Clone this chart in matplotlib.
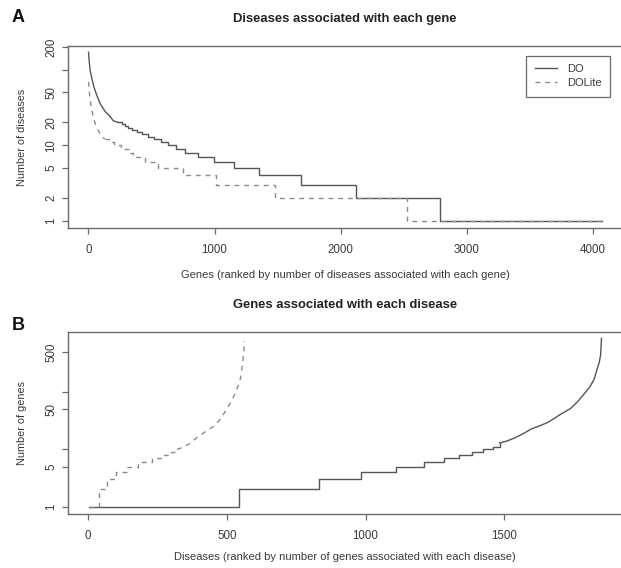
import matplotlib
matplotlib.use('Agg')
import matplotlib.pyplot as plt
from matplotlib.ticker import FixedLocator, FixedFormatter, NullLocator

# Panel A: diseases per gene (genes ranked, descending)
# steep head of each curve, then integer plateaus (rank where each starts)
A_DO_HEAD_RANK = [1, 3, 8, 15, 27, 45, 66, 95, 132, 172, 198, 236]
A_DO_HEAD_VAL = [170, 150, 120, 95, 77, 58, 46, 35, 28, 24, 21, 20]
A_DO_STEP_RANK = [236, 265, 290, 315, 345, 385, 425, 470, 520, 575, 630,
                  693, 767, 872, 999, 1158, 1356, 1687, 2120, 2792, 4076]
A_DO_STEP_VAL = [20, 19, 18, 17, 16, 15, 14, 13, 12, 11, 10,
                 9, 8, 7, 6, 5, 4, 3, 2, 1, 1]
A_LITE_HEAD_RANK = [1, 5, 12, 25, 40, 60, 93, 130]
A_LITE_HEAD_VAL = [69, 55, 42, 30, 23, 18, 14, 12]
A_LITE_STEP_RANK = [130, 165, 200, 255, 320, 350, 450, 555, 753, 1010,
                    1481, 2525, 4076]
A_LITE_STEP_VAL = [12, 11, 10, 9, 8, 7, 6, 5, 4, 3, 2, 1, 1]

# Panel B: genes per disease (diseases ranked, ascending)
B_DO_STEP_RANK = [1, 543, 832, 983, 1109, 1210, 1283, 1336, 1384, 1422,
                  1460, 1484]
B_DO_STEP_VAL = [1, 2, 3, 4, 5, 6, 7, 8, 9, 10, 11, 13]
B_DO_TAIL_RANK = [1484, 1510, 1540, 1570, 1600, 1630, 1660, 1700, 1740,
                  1765, 1790, 1810, 1825, 1835, 1843, 1848, 1851]
B_DO_TAIL_VAL = [13, 14, 16, 19, 23, 26, 30, 40, 52,
                 68, 95, 125, 170, 250, 330, 450, 870]
B_LITE_STEP_RANK = [1, 38, 68, 100, 140, 180, 230, 270, 300, 320]
B_LITE_STEP_VAL = [1, 2, 3, 4, 5, 6, 7, 8, 9, 10]
B_LITE_TAIL_RANK = [320, 345, 370, 391, 420, 451, 475, 499, 520, 535,
                    550, 556, 561, 563]
B_LITE_TAIL_VAL = [10, 11, 13, 16, 20, 25, 33, 50, 75, 108,
                   180, 300, 500, 780]

A_XTICKS = [0, 1000, 2000, 3000, 4000]
A_YTICKS = [1, 2, 5, 10, 20, 50, 100, 200]
A_YLABELS = ['1', '2', '5', '10', '20', '50', '', '200']
B_XTICKS = [0, 500, 1000, 1500]
B_YTICKS = [1, 5, 10, 50, 100, 500]
B_YLABELS = ['1', '5', '', '50', '', '500']

W, H = 621, 568
plt.rcParams['font.family'] = ['Liberation Sans', 'DejaVu Sans']

LINE = '#555555'
LITE = '#8a8a8a'
AXC = '#6a6a6a'
TXT = '#3a3a3a'
DASH = (3.5, 3.5)


def fx(px):
    return px / W


def fy(py):
    return 1 - py / H


def box(left, top, right, bottom):
    return [fx(left), fy(bottom), (right - left) / W, (bottom - top) / H]


def style(ax, xticks, yticks, ylabels):
    ax.set_yscale('log')
    for s in ax.spines.values():
        s.set_color(AXC)
        s.set_linewidth(1.0)
    ax.xaxis.set_major_locator(FixedLocator(xticks))
    ax.set_xticklabels([str(t) for t in xticks])
    ax.yaxis.set_major_locator(FixedLocator(yticks))
    ax.yaxis.set_major_formatter(FixedFormatter(ylabels))
    ax.yaxis.set_minor_locator(NullLocator())
    ax.tick_params(axis='both', direction='out', length=4.5, width=0.9,
                   color=AXC, labelcolor=TXT, labelsize=8.3)
    ax.tick_params(axis='x', pad=7)
    ax.tick_params(axis='y', pad=3)
    for lab in ax.get_yticklabels():
        lab.set_rotation(90)
        lab.set_va('center')


def titles(title, top_py, xlabel, xlabel_py, ylabel, ylabel_py, letter,
           letter_py):
    fig.text(fx(345), fy(top_py), title, ha='center', va='center',
             fontsize=9.4, fontweight='bold', color='#222222')
    fig.text(fx(345), fy(xlabel_py), xlabel, ha='center', va='center',
             fontsize=8.0, color=TXT)
    fig.text(fx(22), fy(ylabel_py), ylabel, rotation=90, ha='center',
             va='center', fontsize=7.8, color=TXT)
    fig.text(fx(12), fy(letter_py), letter, ha='left', va='center',
             fontsize=13, fontweight='bold', color='#111111')


fig = plt.figure(figsize=(W / 100, H / 100), dpi=100)

# ---- A
ax = fig.add_axes(box(68, 46, 623, 228))
ax.plot(A_DO_HEAD_RANK, A_DO_HEAD_VAL, color=LINE, lw=1.0, label='DO')
ax.step(A_DO_STEP_RANK, A_DO_STEP_VAL, where='post', color=LINE, lw=1.0)
ax.plot(A_LITE_HEAD_RANK, A_LITE_HEAD_VAL, color=LITE, lw=1.0,
        dashes=DASH, label='DOLite')
ax.step(A_LITE_STEP_RANK, A_LITE_STEP_VAL, where='post', color=LITE,
        lw=1.0, dashes=DASH)
ax.set_xlim(-162, 4240)
ax.set_ylim(0.80, 206)
style(ax, A_XTICKS, A_YTICKS, A_YLABELS)
leg = ax.legend(loc='upper right', bbox_to_anchor=(fx(610), fy(56)),
                bbox_transform=fig.transFigure, borderaxespad=0,
                fontsize=8, handlelength=2.0, handletextpad=0.9,
                labelspacing=0.35, fancybox=False, framealpha=1,
                borderpad=0.75)
leg.get_frame().set_edgecolor(AXC)
leg.get_frame().set_linewidth(0.9)
for t in leg.get_texts():
    t.set_color(TXT)

titles('Diseases associated with each gene', 19,
       'Genes (ranked by number of diseases associated with each gene)', 275,
       'Number of diseases', 137, 'A', 18)

# ---- B
ax = fig.add_axes(box(68, 332.3, 622, 514))
ax.step(B_DO_STEP_RANK, B_DO_STEP_VAL, where='post', color=LINE, lw=1.0)
ax.plot(B_DO_TAIL_RANK, B_DO_TAIL_VAL, color=LINE, lw=1.0)
ax.step(B_LITE_STEP_RANK, B_LITE_STEP_VAL, where='post', color=LITE,
        lw=1.0, dashes=DASH)
ax.plot(B_LITE_TAIL_RANK, B_LITE_TAIL_VAL, color=LITE, lw=1.0, dashes=DASH)
ax.set_xlim(-73, 1925)
ax.set_ylim(0.746, 1106)
style(ax, B_XTICKS, B_YTICKS, B_YLABELS)

titles('Genes associated with each disease', 305,
       'Diseases (ranked by number of genes associated with each disease)',
       557, 'Number of genes', 423, 'B', 325)

fig.savefig('out.png', dpi=100)
